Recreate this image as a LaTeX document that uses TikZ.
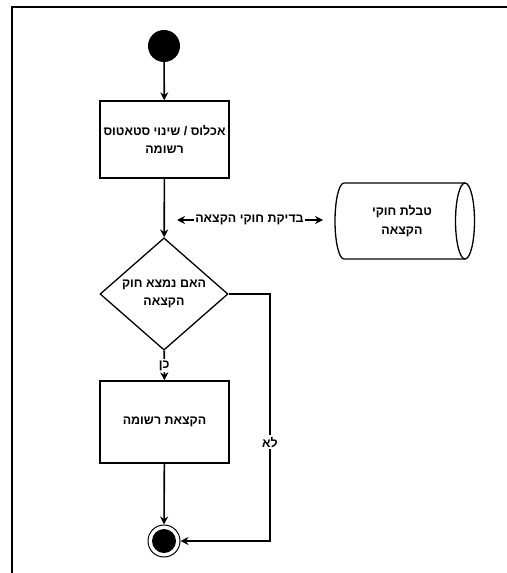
\documentclass[tikz,border=0pt]{standalone}
\usepackage{fontspec}
\newfontfamily\heb[Script=Hebrew]{Liberation Sans}
\TeXXeTstate=1
\usetikzlibrary{shapes.geometric,arrows.meta}
\newcommand{\rl}[1]{\beginR #1\endR}
\begin{document}
\begin{tikzpicture}[x=1bp,y=-1bp, font=\heb\bfseries\fontsize{12.5}{18.5}\selectfont,
  line/.style={line width=1.6bp},
  tip/.tip={Stealth[length=8bp,width=8bp]},
  arr/.style={line, -tip},
  box/.style={draw, line width=1.3bp, minimum width=129bp, minimum height=77bp, inner sep=0pt, align=center},
  lbl/.style={fill=white, inner sep=1.5bp}]
\useasboundingbox (0,0) rectangle (507,573);
\draw[line width=1.5bp] (12,573) -- (12,7) -- (507,7);
% nodes
\node[circle, fill=black, minimum size=32bp, inner sep=0pt] (start) at (164,46) {};
\node[box] (b1) at (164.5,139.5) {\rl{אכלוס / שינוי סטאטוס}\\\rl{רשומה}};
\node[diamond, draw, line width=1.3bp, minimum width=128bp, minimum height=78bp, inner sep=0pt, align=center] (d) at (164,294) {\rl{האם נמצא חוק}\\\rl{הקצאה}};
\node[box, minimum height=82bp] (b2) at (164.5,422) {\rl{הקצאת רשומה}};
\node[circle, draw, line width=1bp, minimum size=32bp, inner sep=0pt] (end) at (164,541) {};
\fill (end.center) circle (12);
% cylinder
\draw[line width=1.3bp] (465,183) -- (344,183) arc[start angle=270, end angle=90, x radius=9, y radius=38] -- (465,259);
\draw[line width=1.3bp] (465,221) ellipse [x radius=9.5, y radius=38];
\node[align=center] (cyl) at (402,221) {\rl{טבלת חוקי}\\\rl{הקצאה}};
\coordinate (cylw) at (335,220);
\coordinate (m) at (164,220);
% connectors
\draw[arr] (start) -- (b1);
\draw[arr] (b1) -- (d);
\draw[line, tip-tip, shorten <=13bp, shorten >=12bp] (m) -- node[lbl]{\rl{בדיקת חוקי הקצאה}} (cylw);
\draw[arr] (d) -- node[lbl]{\rl{כן}} (b2);
\draw[arr] (b2) -- (end);
\coordinate (nocorner) at (270,294);
\draw[arr] (d.east) -- (nocorner) |- node[lbl, pos=0.3]{\rl{לא}} (end.east);
\end{tikzpicture}
\end{document}
